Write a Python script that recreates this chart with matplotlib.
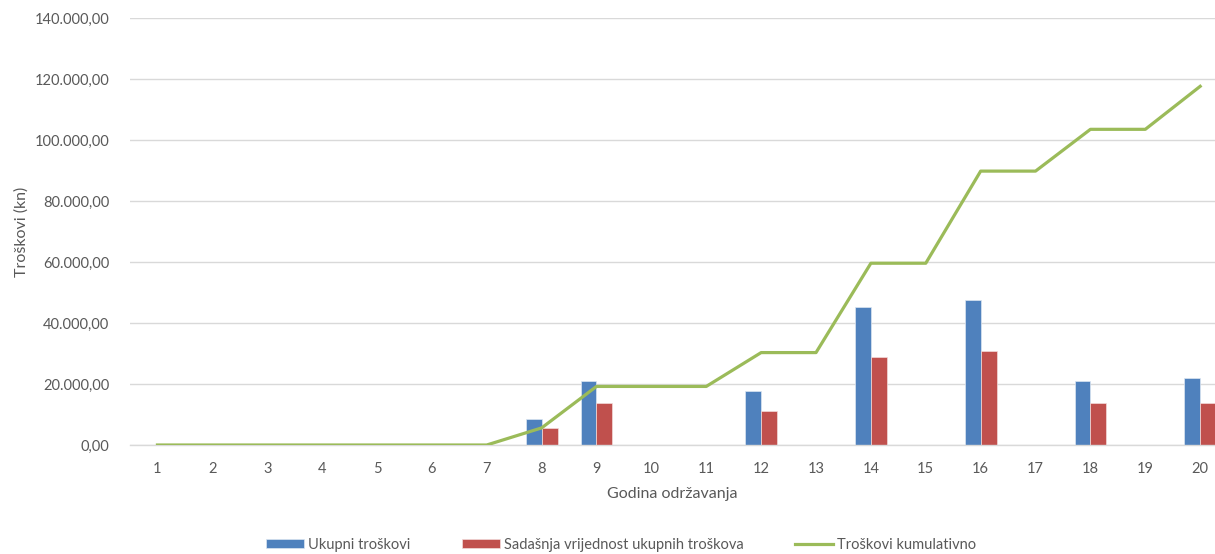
import matplotlib
matplotlib.use("Agg")
import matplotlib.pyplot as plt
import numpy as np
from matplotlib.ticker import FuncFormatter

years = list(range(1, 21))
ukupni = [0, 0, 0, 0, 0, 0, 0, 8500, 21000, 0, 0, 17700, 0, 45200, 0, 47500, 0, 21000, 0, 22000]
sadasnja = [0, 0, 0, 0, 0, 0, 0, 5600, 13800, 0, 0, 11200, 0, 28800, 0, 30800, 0, 13800, 0, 13900]
kumulativno = [0, 0, 0, 0, 0, 0, 0, 5600, 19200, 19200, 19200, 30300, 30300, 59600, 59600,
               89800, 89800, 103500, 103500, 117600]

plt.rcParams['font.family'] = ['Lato', 'DejaVu Sans']
txt = '#595959'

fig = plt.figure(figsize=(12.15, 5.54), dpi=100)
ax = fig.add_axes([130/1215, 1-445/554, 1-130/1215, (445-18)/554])

x = np.array(years)
w = 0.29
b1 = ax.bar(x - w/2, ukupni, width=w, color='#4F81BD', edgecolor='#DCE6F2', linewidth=0.5,
            label='Ukupni troškovi', zorder=2)
b2 = ax.bar(x + w/2, sadasnja, width=w, color='#C0504D', edgecolor='#F2DCDB', linewidth=0.5,
            label='Sadašnja vrijednost ukupnih troškova', zorder=2)
l1, = ax.plot(x, kumulativno, color='#9BBB59', linewidth=2.3, label='Troškovi kumulativno', zorder=3)

ax.set_xlim(0.5, 20.27)
ax.set_ylim(0, 140000)
ax.set_yticks(np.arange(0, 140001, 20000))
ax.set_xticks(years)
ax.set_xticklabels([str(y) for y in years])

def fmt(v, pos):
    s = f"{v:,.2f}"
    return s.replace(',', 'X').replace('.', ',').replace('X', '.')
ax.yaxis.set_major_formatter(FuncFormatter(fmt))

ax.grid(axis='y', color='#D9D9D9', linewidth=1.0, zorder=0)
ax.set_axisbelow(True)
for s in ['top', 'right', 'left']:
    ax.spines[s].set_visible(False)
ax.spines['bottom'].set_color('#D9D9D9')
ax.spines['bottom'].set_linewidth(1.0)
ax.tick_params(axis='both', length=0, colors=txt, labelsize=10.5)
ax.tick_params(axis='y', pad=15)
ax.tick_params(axis='x', pad=12)

ax.set_xlabel('Godina održavanja', color=txt, fontsize=11.5, labelpad=8)
ax.set_ylabel('Troškovi (kn)', color=txt, fontsize=11.5, labelpad=4)

fig.legend([b1, b2, l1], [b1.get_label(), b2.get_label(), l1.get_label()],
           loc='center', bbox_to_anchor=(621/1215, 1-545/554), ncol=3,
           frameon=False, fontsize=10.5, labelcolor=txt, handlelength=2.6, handleheight=0.6,
           handletextpad=0.3, columnspacing=3.5)

fig.savefig('out.png', dpi=100, facecolor='white')
